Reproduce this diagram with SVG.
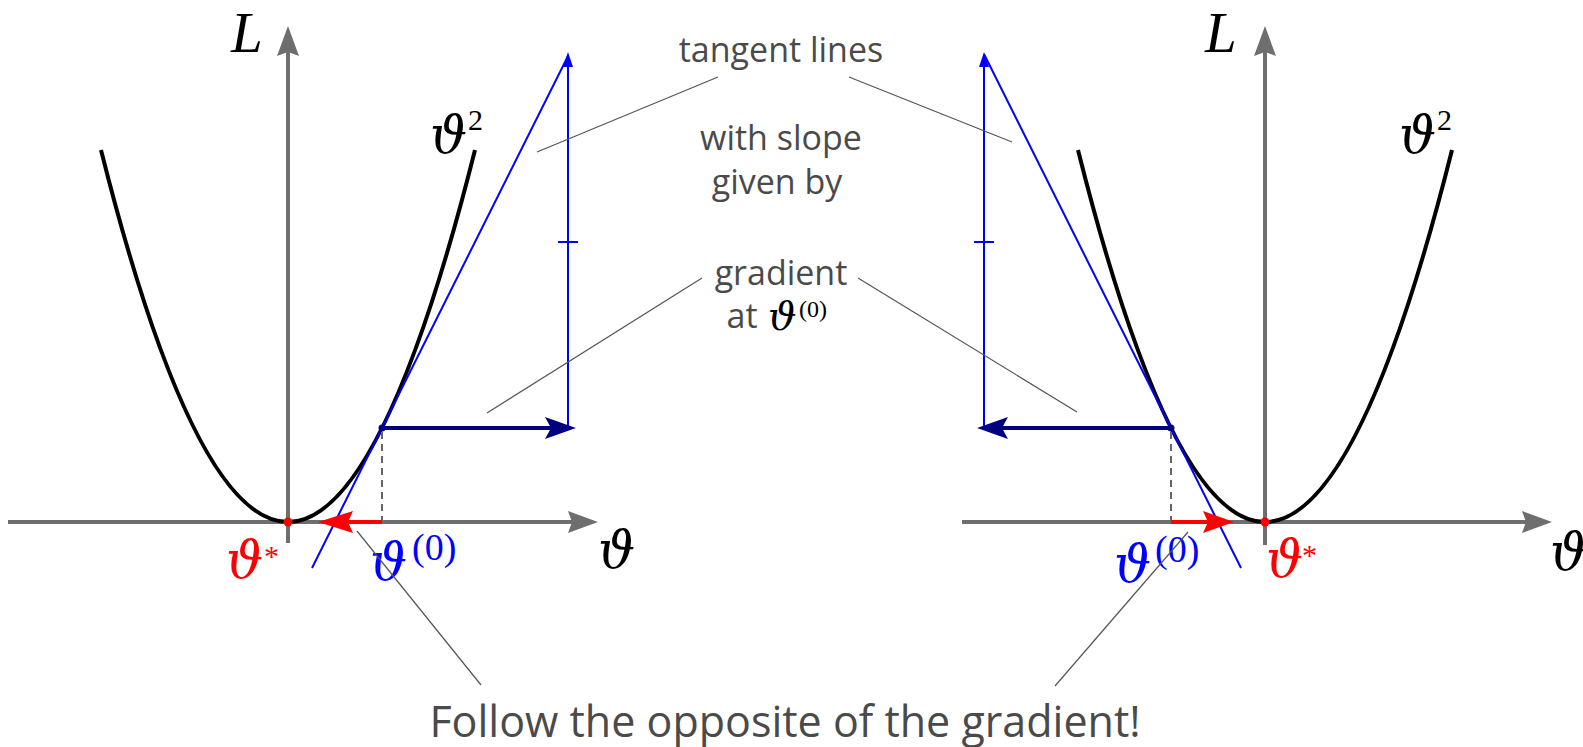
<svg xmlns="http://www.w3.org/2000/svg" width="1583" height="747" viewBox="0 0 1583 747">
<style>
.axis{stroke:#6e6e6e;stroke-width:4;fill:none}
.axhead{fill:#6e6e6e}
.curve{stroke:#000;stroke-width:4;fill:none}
.tan{stroke:#0000ff;stroke-width:2;fill:none}
.bluehead{fill:#0000ff}
.navy{stroke:#000080;stroke-width:4;fill:none}
.navyhead{fill:#000080}
.red{stroke:#ff0000;stroke-width:4;fill:none}
.redhead{fill:#ff0000}
.dash{stroke:#666;stroke-width:2;stroke-dasharray:7 5;fill:none}
.lead{stroke:#555;stroke-width:1.2;fill:none}
.lbl{font-family:"Open Sans","Liberation Sans",sans-serif;fill:#4a4a4a;text-anchor:middle}
.m{font-family:"Liberation Serif","DejaVu Serif",serif;font-style:italic}
.th{font-family:"DejaVu Serif",serif;font-style:italic}
.up{font-family:"Liberation Serif","DejaVu Serif",serif;font-style:normal}
</style>
<rect width="1583" height="747" fill="#fff"/>

<g id="left-panel">
  <line class="axis" x1="8" y1="522" x2="572" y2="522"/>
  <polygon class="axhead" points="598,522 568,511 572,522 568,533"/>
  <line class="axis" x1="288" y1="543" x2="288" y2="52"/>
  <polygon class="axhead" points="288,26 277,56 288,52 299,56"/>
  <text class="m" x="231" y="52" font-size="57">L</text>
  <text class="th" x="598" y="568" font-size="52">ϑ</text>
  <path class="curve" d="M101,150 Q288,894 475,150"/>
  <text class="th" x="430" y="153" font-size="52">ϑ</text>
  <text class="up" x="468" y="130" font-size="30">2</text>
  <line class="tan" x1="312" y1="568" x2="568" y2="56"/>
  <line class="tan" x1="568" y1="428" x2="568" y2="64"/>
  <polygon class="bluehead" points="568,52 563,67 573,67"/>
  <line class="tan" x1="558" y1="242" x2="578" y2="242"/>
  <line class="dash" x1="382" y1="432" x2="382" y2="520"/>
  <line class="navy" x1="382" y1="428" x2="552" y2="428"/>
  <polygon class="navyhead" points="576,428 545,417 551,428 545,439"/>
  <circle cx="382" cy="428" r="3.5" fill="#000080"/>
  <line class="red" x1="382" y1="522" x2="345" y2="522"/>
  <polygon class="redhead" points="318,522 353,511 348,522 353,533"/>
  <circle cx="288" cy="522" r="4.5" fill="#ff0000"/>
  <text class="th" x="226" y="578" font-size="52" fill="#ff0000">ϑ</text>
  <text class="up" x="264" y="566" font-size="30" fill="#ff0000">*</text>
  <text class="th" x="370" y="580" font-size="52" fill="#0000ff">ϑ</text>
  <text class="up" x="412" y="560" font-size="38" fill="#0000ff">(0)</text>
</g>

<g id="right-panel">
  <line class="axis" x1="962" y1="522" x2="1526" y2="522"/>
  <polygon class="axhead" points="1552,522 1522,511 1526,522 1522,533"/>
  <line class="axis" x1="1265" y1="545" x2="1265" y2="52"/>
  <polygon class="axhead" points="1265,26 1254,56 1265,52 1276,56"/>
  <text class="m" x="1205" y="52" font-size="57">L</text>
  <text class="th" x="1550" y="570" font-size="52">ϑ</text>
  <path class="curve" d="M1078,150 Q1265,894 1452,150"/>
  <text class="th" x="1399" y="153" font-size="52">ϑ</text>
  <text class="up" x="1437" y="130" font-size="30">2</text>
  <line class="tan" x1="1241" y1="568" x2="984" y2="54"/>
  <line class="tan" x1="984" y1="428" x2="984" y2="64"/>
  <polygon class="bluehead" points="984,52 979,67 989,67"/>
  <line class="tan" x1="974" y1="242" x2="994" y2="242"/>
  <line class="dash" x1="1171" y1="432" x2="1171" y2="520"/>
  <line class="navy" x1="1171" y1="428" x2="1001" y2="428"/>
  <polygon class="navyhead" points="977,428 1008,417 1002,428 1008,439"/>
  <circle cx="1171" cy="428" r="3.5" fill="#000080"/>
  <line class="red" x1="1171" y1="522" x2="1208" y2="522"/>
  <polygon class="redhead" points="1234,522 1203,511 1208,522 1203,533"/>
  <circle cx="1265" cy="522" r="4.5" fill="#ff0000"/>
  <text class="th" x="1266" y="577" font-size="52" fill="#ff0000">ϑ</text>
  <text class="up" x="1302" y="565" font-size="30" fill="#ff0000">*</text>
  <text class="th" x="1114" y="582" font-size="52" fill="#0000ff">ϑ</text>
  <text class="up" x="1155" y="562" font-size="38" fill="#0000ff">(0)</text>
</g>

<g id="annotations">
  <text class="lbl" x="781" y="62" font-size="34">tangent lines</text>
  <text class="lbl" x="781" y="150" font-size="34">with slope</text>
  <text class="lbl" x="777" y="194" font-size="34">given by</text>
  <text class="lbl" x="781" y="285" font-size="34">gradient</text>
  <text class="lbl" x="742" y="328" font-size="34">at</text>
  <text class="th" x="768" y="330" font-size="40" fill="#000">ϑ</text>
  <text class="up" x="799" y="317" font-size="24" fill="#000">(0)</text>
  <text class="lbl" x="785" y="737" font-size="43">Follow the opposite of the gradient!</text>
</g>

<g id="connectors">
  <line class="lead" x1="718" y1="77" x2="537" y2="152"/>
  <line class="lead" x1="849" y1="77" x2="1012" y2="142"/>
  <line class="lead" x1="702" y1="278" x2="487" y2="413"/>
  <line class="lead" x1="858" y1="278" x2="1077" y2="412"/>
  <line class="lead" x1="357" y1="531" x2="481" y2="685"/>
  <line class="lead" x1="1188" y1="532" x2="1055" y2="686"/>
</g>
</svg>
